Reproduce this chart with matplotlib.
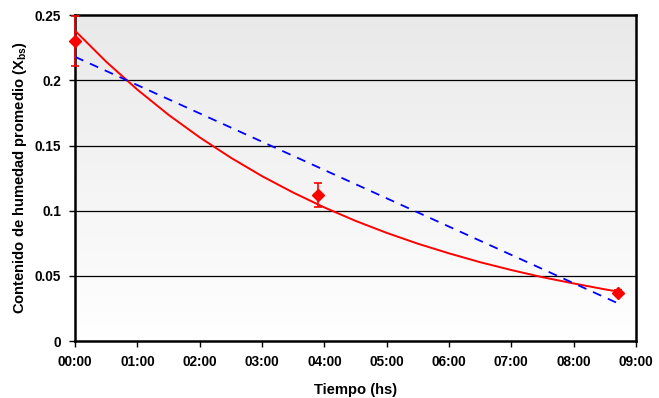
import numpy as np
import matplotlib
matplotlib.use("Agg")
import matplotlib.pyplot as plt
from matplotlib.colors import LinearSegmentedColormap

plt.rcParams['font.family'] = ['Liberation Sans', 'DejaVu Sans']
plt.rcParams['font.weight'] = 'bold'
plt.rcParams['mathtext.fontset'] = 'custom'
plt.rcParams['mathtext.rm'] = 'Liberation Sans:bold'
plt.rcParams['mathtext.it'] = 'Liberation Sans:bold'
plt.rcParams['mathtext.bf'] = 'Liberation Sans:bold'

# measured points (time in hours, moisture content, error)
t_meas = [0.0, 3.90, 8.71]
x_meas = [0.230, 0.112, 0.037]
x_err = [0.019, 0.009, 0.002]

# exponential fit
t_fit = [0, 0.5, 1, 1.5, 2, 2.5, 3, 3.5, 4, 4.5, 5, 5.5, 6, 6.5, 7, 7.5, 8, 8.5, 8.71]
x_fit = [0.238, 0.2142, 0.1928, 0.1735, 0.1562, 0.1406, 0.1265, 0.1139, 0.1025,
         0.0922, 0.0830, 0.0747, 0.0673, 0.0605, 0.0545, 0.0490, 0.0442, 0.0397, 0.038]

# linear fit
t_lin = [0, 8.71]
x_lin = [0.218, 0.029]

x_ticks = [0, 1, 2, 3, 4, 5, 6, 7, 8, 9]
x_labels = ['00:00', '01:00', '02:00', '03:00', '04:00', '05:00', '06:00', '07:00', '08:00', '09:00']
y_ticks = [0, 0.05, 0.1, 0.15, 0.2, 0.25]
y_labels = ['0', '0.05', '0.1', '0.15', '0.2', '0.25']

fig = plt.figure(figsize=(6.59, 3.98), dpi=100)
ax = fig.add_axes([0.114, 0.143, 0.851, 0.819])

# gray gradient background
cmap = LinearSegmentedColormap.from_list('bg', ['#ffffff', '#e9e9e9'])
grad = np.linspace(0, 1, 256).reshape(-1, 1)
ax.imshow(grad, extent=[0, 9, 0, 0.25], origin='lower', aspect='auto', cmap=cmap, zorder=0)

for y in y_ticks[1:-1]:
    ax.axhline(y, color='black', lw=0.9, zorder=1)

ax.plot(t_fit, x_fit, color='#ff0000', lw=1.4, zorder=3)
ax.plot(t_lin, x_lin, color='#0000ff', lw=1.3, ls=(0, (5, 4)), zorder=3)
ax.errorbar(t_meas, x_meas, yerr=x_err, fmt='D', color='#ff0000', ms=6,
            elinewidth=1.2, capsize=3, capthick=1.2, zorder=4, clip_on=False)

ax.set_xlim(0, 9)
ax.set_ylim(0, 0.25)
ax.set_xticks(x_ticks)
ax.set_xticklabels(x_labels, fontsize=9.8, fontweight='bold')
ax.set_yticks(y_ticks)
ax.set_yticklabels(y_labels, fontsize=9.8, fontweight='bold')
ax.tick_params(direction='out', length=4, width=1, pad=6)

for s in ax.spines.values():
    s.set_linewidth(1.8)
    s.set_color('black')

ax.set_xlabel('Tiempo (hs)', fontsize=10.6, fontweight='bold', labelpad=10)
ax.set_ylabel(r'Contenido de humedad promedio (X$_{bs}$)', fontsize=10.6, fontweight='bold', labelpad=4)

fig.savefig('out.png', dpi=100)
